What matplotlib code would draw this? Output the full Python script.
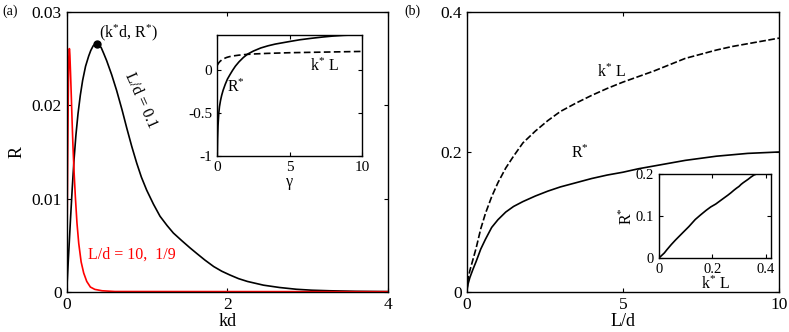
import matplotlib
matplotlib.use("Agg")
import matplotlib.pyplot as plt

plt.rcParams['font.family'] = ['Liberation Serif', 'DejaVu Serif']
plt.rcParams['mathtext.fontset'] = 'custom'
plt.rcParams['mathtext.rm'] = 'Liberation Serif'
plt.rcParams['mathtext.it'] = 'Liberation Serif:italic'

# ---- data ----
# (a) R vs kd, L/d = 0.1 (black)
kd_black = [0, 0.02, 0.049, 0.07, 0.091, 0.115, 0.141, 0.17, 0.199, 0.235,
            0.274, 0.30, 0.33, 0.355, 0.377, 0.40, 0.43, 0.46, 0.498, 0.56,
            0.622, 0.69, 0.747, 0.81, 0.872, 0.93, 0.996, 1.08, 1.162, 1.25,
            1.328, 1.43, 1.536, 1.62, 1.72, 1.83, 1.93, 2.03, 2.14, 2.25,
            2.45, 2.65, 2.86, 3.05, 3.27, 3.6, 4.0]
R_black = [0, 0.0033, 0.0080, 0.0112, 0.0141, 0.0168, 0.0191, 0.0211, 0.0227, 0.0242,
           0.0253, 0.0259, 0.0264, 0.0266, 0.0266, 0.0265, 0.0262, 0.0256, 0.0248, 0.0233,
           0.0216, 0.0195, 0.0176, 0.0156, 0.0138, 0.0123, 0.0109, 0.0094, 0.0081, 0.0071,
           0.0063, 0.0055, 0.0047, 0.0041, 0.0034, 0.0027, 0.0022, 0.0018, 0.0014, 0.0011,
           0.0007, 0.00045, 0.00026, 0.00016, 0.0001, 0.00004, 0.00001]

# (a) R vs kd, L/d = 10, 1/9 (red)
kd_red = [0, 0.006, 0.012, 0.02, 0.027, 0.03, 0.033, 0.036, 0.04, 0.048,
          0.058, 0.068, 0.079, 0.093, 0.108, 0.128, 0.15, 0.18, 0.212, 0.25,
          0.295, 0.35, 0.44, 0.6, 4.0]
R_red = [0, 0.007, 0.0138, 0.021, 0.0252, 0.0258, 0.0261, 0.0260, 0.0254, 0.0235,
         0.0209, 0.0182, 0.0155, 0.0127, 0.0102, 0.0074, 0.0052, 0.0032, 0.002, 0.0011,
         0.0005, 0.00025, 0.0001, 0.00002, 0]

peak_kd = 0.377
peak_R = 0.0266

# (a) inset: R* and k*L vs gamma
gam_R = [0, 0.02, 0.05, 0.1, 0.15, 0.22, 0.3, 0.4, 0.55, 0.7,
         0.87, 1.05, 1.25, 1.5, 1.8, 2.1, 2.5, 3.0, 3.5, 4.0,
         4.5, 5.0, 5.7, 6.5, 7.3, 8.0, 8.7, 9.3, 10]
Rstar_gam = [-1, -0.8, -0.65, -0.51, -0.43, -0.36, -0.30, -0.24, -0.17, -0.11,
             -0.06, -0.01, 0.04, 0.09, 0.14, 0.18, 0.215, 0.25, 0.275, 0.295,
             0.31, 0.325, 0.345, 0.362, 0.377, 0.388, 0.396, 0.40, 0.40]
gam_k = [0, 0.05, 0.1, 0.2, 0.3, 0.45, 0.64, 0.85, 1.1, 1.5,
         2.0, 2.6, 3.4, 4.2, 5.0, 6.0, 7.0, 8.0, 9.0, 10]
kL_gam = [0.05, 0.065, 0.078, 0.097, 0.11, 0.126, 0.14, 0.15, 0.158, 0.167,
          0.175, 0.181, 0.187, 0.191, 0.195, 0.198, 0.201, 0.204, 0.207, 0.21]

# (b) k*L and R* vs L/d
Ld = [0, 0.05, 0.1, 0.2, 0.3, 0.45, 0.6, 0.8, 1.0, 1.25,
      1.5, 1.8, 2.2, 2.6, 3.0, 3.5, 4.0, 4.5, 5.0, 5.5,
      6.0, 6.5, 7.0, 7.5, 8.0, 8.5, 9.0, 9.5, 10]
kL = [0, 0.02, 0.03, 0.046, 0.062, 0.09, 0.112, 0.136, 0.156, 0.177,
      0.194, 0.213, 0.23, 0.245, 0.258, 0.27, 0.281, 0.291, 0.300, 0.308,
      0.316, 0.325, 0.334, 0.34, 0.346, 0.351, 0.355, 0.359, 0.363]
Rstar = [0, 0.012, 0.02, 0.032, 0.043, 0.061, 0.075, 0.092, 0.103, 0.114,
         0.122, 0.129, 0.137, 0.144, 0.150, 0.156, 0.162, 0.167, 0.171, 0.176,
         0.18, 0.184, 0.188, 0.191, 0.194, 0.196, 0.198, 0.199, 0.2]


def style(ax, size):
    ax.tick_params(direction='in', top=True, right=True, length=3, width=0.8,
                   labelsize=size)
    for s in ax.spines.values():
        s.set_linewidth(1.0)


fig = plt.figure(figsize=(7.89, 3.32), dpi=100)

# ---- panel (a) ----
ax1 = fig.add_axes([0.0845, 0.1214, 0.4073, 0.8416])
ax1.plot(kd_black, R_black, color='black', lw=1.2)
ax1.plot(kd_red, R_red, color='red', lw=1.2)
ax1.plot(peak_kd, peak_R, 'o', color='black', ms=5)
ax1.set_xlim(0, 4)
ax1.set_ylim(0, 0.03)
ax1.set_xticks([0, 2, 4])
ax1.set_yticks([0, 0.01, 0.02, 0.03])
ax1.set_yticklabels(['0', '0.01', '0.02', '0.03'])
ax1.set_xlabel('kd', fontsize=13, labelpad=0)
ax1.set_ylabel('R', fontsize=13, labelpad=4)
style(ax1, 12.5)
ax1.text(0.4, 0.0267, '(k$^{*}$d, R$^{*}$)', fontsize=11.5, ha='left', va='bottom')
ax1.text(0.92, 0.0205, 'L/d = 0.1', fontsize=11.5, rotation=-66,
         ha='center', va='center')
ax1.text(0.27, 0.0040, 'L/d = 10,  1/9', fontsize=11.5, color='red',
         ha='left', va='center')

# inset (a)
ins1 = fig.add_axes([0.2754, 0.5301, 0.1838, 0.3645])
ins1.plot(gam_R, Rstar_gam, color='black', lw=1.2)
ins1.plot(gam_k, kL_gam, color='black', lw=1.2, ls='--', dashes=(4, 2))
ins1.set_xlim(0, 10)
ins1.set_ylim(-1, 0.4)
ins1.set_xticks([0, 5, 10])
ins1.set_yticks([-1, -0.5, 0])
ins1.set_yticklabels(['-1', '-0.5', '0'])
ins1.set_xlabel('\u03b3', fontsize=11.5, labelpad=0)
style(ins1, 11)
ins1.text(7.4, 0.04, 'k$^{*}$ L', fontsize=11.5, ha='center', va='center')
ins1.text(1.3, -0.2, 'R$^{*}$', fontsize=11.5, ha='center', va='center')

# ---- panel (b) ----
ax2 = fig.add_axes([0.5915, 0.1214, 0.3958, 0.8416])
ax2.plot(Ld, kL, color='black', lw=1.2, ls='--', dashes=(4, 1.5))
ax2.plot(Ld, Rstar, color='black', lw=1.2)
ax2.set_xlim(0, 10)
ax2.set_ylim(0, 0.4)
ax2.set_xticks([0, 5, 10])
ax2.set_yticks([0, 0.2, 0.4])
ax2.set_yticklabels(['0', '0.2', '0.4'])
ax2.set_xlabel('L/d', fontsize=13, labelpad=0)
style(ax2, 12.5)
ax2.text(4.64, 0.314, 'k$^{*}$ L', fontsize=11.5, ha='center', va='center')
ax2.text(3.63, 0.198, 'R$^{*}$', fontsize=11.5, ha='center', va='center')

# inset (b)
ins2 = fig.add_axes([0.8352, 0.2229, 0.142, 0.2521])
ins2.plot(kL, Rstar, color='black', lw=1.2)
ins2.set_xlim(0, 0.42)
ins2.set_ylim(0, 0.2)
ins2.set_xticks([0, 0.2, 0.4])
ins2.set_xticklabels(['0', '0.2', '0.4'])
ins2.set_yticks([0, 0.1, 0.2])
ins2.set_yticklabels(['0', '0.1', '0.2'])
ins2.set_xlabel('k$^{*}$ L', fontsize=11.5, labelpad=0)
ins2.set_ylabel('R$^{*}$', fontsize=11.5, labelpad=0)
style(ins2, 10.5)

fig.text(0.003, 0.985, '(a)', fontsize=10, ha='left', va='top')
fig.text(0.512, 0.985, '(b)', fontsize=10, ha='left', va='top')

fig.savefig('out.png', dpi=100)
